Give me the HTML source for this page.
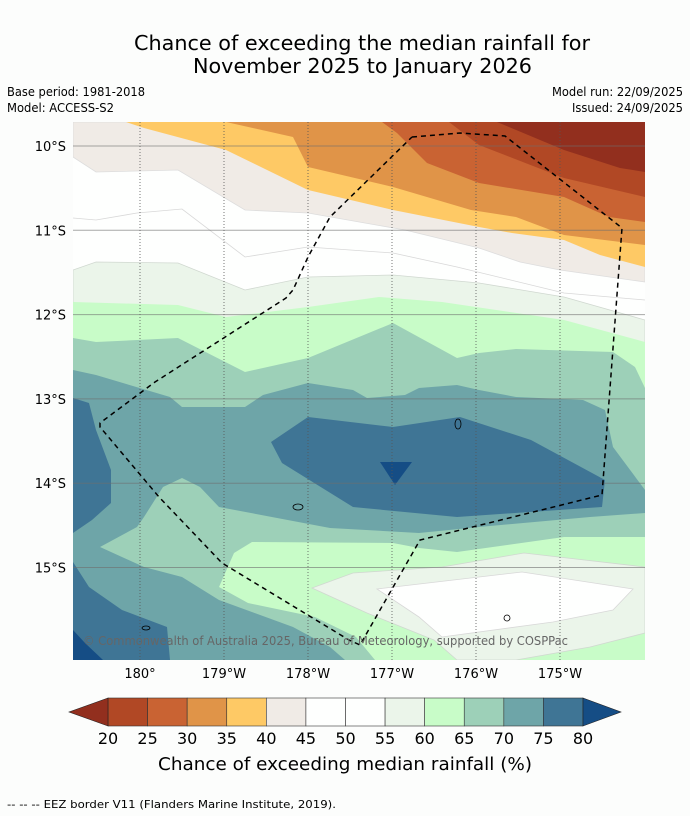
<!DOCTYPE html>
<html><head><meta charset="utf-8"><style>
body{margin:0;background:#fcfdfc;width:690px;height:816px;overflow:hidden;font-family:"DejaVu Sans","Liberation Sans",sans-serif}
svg{position:absolute;left:0;top:0}
</style></head><body>
<svg id="s" width="690" height="816">
<text x="134" y="50" font-size="20" textLength="456" lengthAdjust="spacingAndGlyphs">Chance of exceeding the median rainfall for</text>
<text x="193" y="73" font-size="20" textLength="339" lengthAdjust="spacingAndGlyphs">November 2025 to January 2026</text>
<text x="7" y="96" font-size="12" textLength="138" lengthAdjust="spacingAndGlyphs">Base period: 1981-2018</text>
<text x="7" y="112" font-size="12" textLength="107" lengthAdjust="spacingAndGlyphs">Model: ACCESS-S2</text>
<text x="552" y="96" font-size="12" textLength="131" lengthAdjust="spacingAndGlyphs">Model run: 22/09/2025</text>
<text x="572" y="112" font-size="12" textLength="111" lengthAdjust="spacingAndGlyphs">Issued: 24/09/2025</text>
<clipPath id="mc"><rect x="73" y="122" width="572" height="538"/></clipPath>
<g id="map" clip-path="url(#mc)">
<rect x="73" y="122" width="572" height="538" fill="#fefffe"/>
</g>
<g id="grid"></g>
<g id="axes"></g>
<text x="83" y="645" font-size="12" fill="#666" textLength="485" lengthAdjust="spacingAndGlyphs">© Commonwealth of Australia 2025, Bureau of Meteorology, supported by COSPPac</text>
<g id="cbar"></g>
<text x="158" y="770" font-size="18" textLength="374" lengthAdjust="spacingAndGlyphs">Chance of exceeding median rainfall (%)</text>
<text x="7" y="808" font-size="11" textLength="329" lengthAdjust="spacingAndGlyphs">--  --  -- EEZ border V11 (Flanders Marine Institute, 2019).</text>
</svg>
<script>
const NS="http://www.w3.org/2000/svg";
const levels=[20,25,30,35,40,45,50,55,60,65,70,75,80];
const colors=["#b14825","#c96333","#e09448","#fec965","#f0ebe6","#fefffe","#fefffe","#ebf5ea","#c8fcc8","#9dd0b8","#6ea5a8","#3f7595"];
const lowColor="#922f1e", highColor="#154d85";
const lonTicks=[0,1,2,3,4,5];
const lonLabels=["180°","179°W","178°W","177°W","176°W","175°W"];
const latTicks=[10,11,12,13,14,15];
const latLabels=["10°S","11°S","12°S","13°S","14°S","15°S"];
const X=d=>140+d*84, Y=l=>146+(l-10)*84.3;
const L=73,R=645,T=122,B=660;
const top20=[[497,122],[564,150],[620,168],[645,172]];
const top25=[[449,122],[479,145],[564,178],[645,197]];
const top30=[[382,122],[397,133],[427,163],[479,183],[564,197],[609,217],[645,222]];
const top35=[[226,122],[293,137],[308,167],[393,187],[471,210],[516,217],[564,235],[645,245]];
const top40=[[126,122],[144,128],[226,150],[308,190],[393,210],[479,227],[512,233],[564,240],[600,255],[645,267]];
const top45=[[73,157],[96,172],[178,170],[245,210],[308,213],[405,230],[479,248],[520,262],[560,270],[645,282]];
const line50=[[73,218],[96,220],[137,213],[182,209],[245,257],[308,247],[393,253],[457,267],[564,293],[645,300]];
const b55=[[73,270],[96,262],[178,263],[245,290],[308,277],[393,275],[479,283],[564,297],[645,320]];
const b60=[[73,302],[178,305],[226,317],[308,307],[379,297],[442,302],[564,320],[645,342]];
const b65top=[[73,338],[96,342],[178,338],[245,372],[308,358],[393,323],[457,358],[479,353],[516,349],[613,352],[635,367],[645,388]];
const b65bot=[[645,537],[564,537],[457,552],[419,548],[393,543],[252,542],[234,553],[219,587],[248,603],[315,617],[356,637],[375,660]];
const b70top=[[73,370],[96,375],[170,397],[182,407],[245,407],[263,395],[308,383],[353,390],[367,398],[405,395],[419,388],[457,385],[479,390],[516,397],[583,400],[605,410],[613,447],[645,490]];
const b70bot=[[645,513],[590,517],[479,527],[419,533],[330,528],[219,507],[200,487],[182,478],[163,487],[144,517],[137,527],[100,547],[144,567],[182,577],[219,600],[293,627],[330,647],[345,660]];
const b75left=[[73,398],[89,403],[96,430],[111,470],[111,503],[92,520],[73,533]];
const b75bl=[[73,562],[89,587],[122,610],[167,627],[170,660],[73,660]];
const b75mid=[[271,442],[308,417],[393,427],[460,417],[531,440],[605,480],[602,507],[457,517],[353,507],[282,463]];
const b80tri=[[380,462],[412,462],[395,485]];
const b80bl=[[73,630],[85,643],[103,660],[73,660]];
const p55=[[312,588],[353,573],[442,567],[524,553],[645,567],[645,633],[590,647],[516,660],[457,660],[434,640],[367,613]];
const p50=[[377,589],[522,572],[633,589],[613,610],[553,622],[442,637],[419,617]];
const eez=[[412,137],[460,133],[505,136],[622,228],[602,495],[420,540],[360,645],[349,640],[222,563],[159,497],[100,427],[100,423],[155,382],[286,298],[293,290],[308,257],[330,217],[412,137]];

const map=document.getElementById('map');
function poly(pts,fill,name,stroke){
  const p=document.createElementNS(NS,'polygon');
  p.setAttribute('points',pts.map(q=>q.join(',')).join(' '));
  p.setAttribute('fill',fill);
  if(stroke){p.setAttribute('stroke',stroke);p.setAttribute('stroke-width','0.8');}
  
  
  map.appendChild(p);
}
function line(pts,stroke,name,dash,w){
  const p=document.createElementNS(NS,'polyline');
  p.setAttribute('points',pts.map(q=>q.join(',')).join(' '));
  p.setAttribute('fill','none');p.setAttribute('stroke',stroke);
  p.setAttribute('stroke-width',w||0.8);
  if(dash)p.setAttribute('stroke-dasharray',dash);
  
  
  return p;
}
const topPoly=pts=>(pts[0][0]<=L?[[L,T]]:[]).concat(pts,[[R,T]]);
poly(topPoly(top45),colors[4],'band-40-45','#ddd');
poly(topPoly(top40),colors[3],'band-35-40');
poly(topPoly(top35),colors[2],'band-30-35');
poly(topPoly(top30),colors[1],'band-25-30');
poly(topPoly(top25),colors[0],'band-20-25');
poly(topPoly(top20),lowColor,'band-below-20');
map.appendChild(line(line50,'#d8d8d8','contour-50'));
poly(b55.concat([[R,B],[L,B]]),colors[7],'band-55-60','#d0d8d0');
poly(b60.concat([[R,B],[L,B]]),colors[8],'band-60-65');
poly(b65top.concat(b65bot,[[L,B]]),colors[9],'band-65-70');
poly(b70top.concat(b70bot,[[L,B]]),colors[10],'band-70-75');
poly(b75left,colors[11],'band-75-80-west');
poly(b75bl,colors[11],'band-75-80-southwest');
poly(b75mid,colors[11],'band-75-80-central');
poly(b80tri,highColor,'band-above-80-central');
poly(b80bl,highColor,'band-above-80-southwest');
poly(p55,colors[7],'pocket-55-60','#d0d8d0');
poly(p50,colors[6],'pocket-50-55','#d8d8d8');
[[458,424,3,5],[298,507,5,3],[507,618,3,3],[146,628,4,2]].forEach(a=>{
  const e=document.createElementNS(NS,'ellipse');
  e.setAttribute('cx',a[0]);e.setAttribute('cy',a[1]);e.setAttribute('rx',a[2]);e.setAttribute('ry',a[3]);
  e.setAttribute('fill','none');e.setAttribute('stroke','#000');e.setAttribute('stroke-width','0.8');
  
  
  map.appendChild(e);
});
const grid=document.getElementById('grid');
lonTicks.forEach((d,i)=>{
  grid.appendChild(line([[X(d),T],[X(d),B]],'#555','lon-gridline-'+i,'1,2',0.8));
});
latTicks.forEach((v,i)=>{
  grid.appendChild(line([[L,Y(v)],[R,Y(v)]],'rgba(110,110,110,0.6)','lat-gridline-'+i,null,1));
});
grid.appendChild(line(eez,'#000','eez-border','5,4',1.5));
const axes=document.getElementById('axes');
function txt(x,y,s,anchor,size,name,par){
  const t=document.createElementNS(NS,'text');
  t.setAttribute('x',x);t.setAttribute('y',y);t.setAttribute('font-size',size);
  t.setAttribute('text-anchor',anchor);t.textContent=s;
  
  
  par.appendChild(t);
}
lonTicks.forEach((d,i)=>txt(X(d),678,lonLabels[i],'middle',13,'lon-tick-label',axes));
latTicks.forEach((v,i)=>txt(66,Y(v)+5,latLabels[i],'end',13,'lat-tick-label',axes));
const cb=document.getElementById('cbar');
const cx0=108,cx1=583,cy=698,ch=28,sw=(cx1-cx0)/colors.length;
colors.forEach((c,i)=>{
  const r=document.createElementNS(NS,'rect');
  r.setAttribute('x',cx0+i*sw);r.setAttribute('y',cy);r.setAttribute('width',sw);r.setAttribute('height',ch);
  r.setAttribute('fill',c);r.setAttribute('stroke','#333');r.setAttribute('stroke-width','0.6');
  
  
  cb.appendChild(r);
});
[[ [cx0,cy],[69,cy+ch/2],[cx0,cy+ch] ],[ [cx1,cy],[621,cy+ch/2],[cx1,cy+ch] ]].forEach((pts,i)=>{
  const p=document.createElementNS(NS,'polygon');
  p.setAttribute('points',pts.map(q=>q.join(',')).join(' '));
  p.setAttribute('fill',i?highColor:lowColor);p.setAttribute('stroke','#222');p.setAttribute('stroke-width','0.6');
  
  
  cb.appendChild(p);
});
levels.forEach((v,i)=>txt(cx0+i*sw,744,String(v),'middle',16,'colorbar-tick-label',cb));
</script>
</body></html>
